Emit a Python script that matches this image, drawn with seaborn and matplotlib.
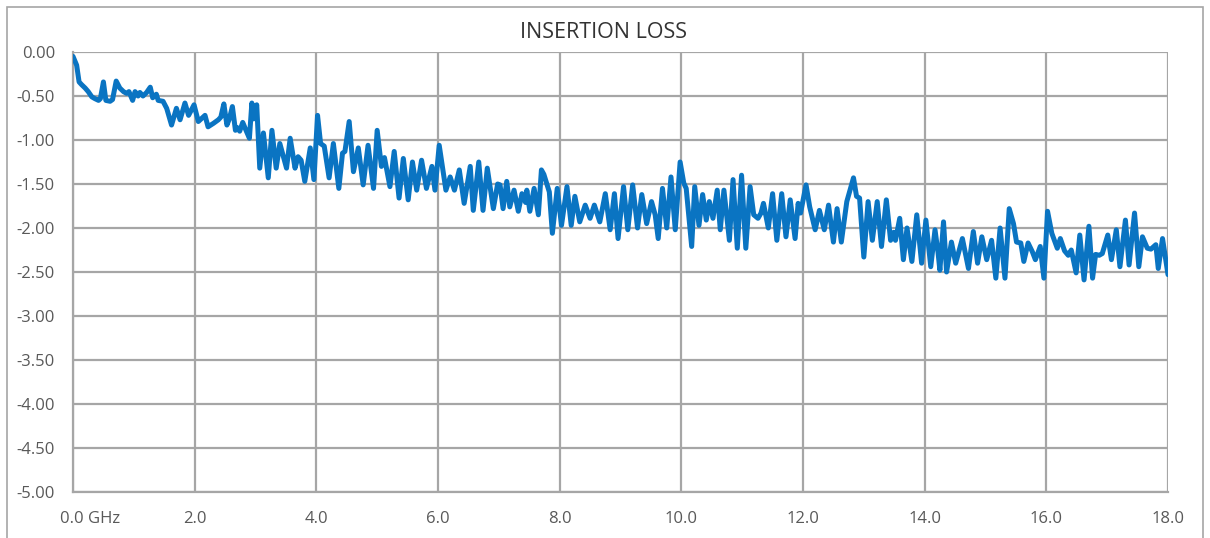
import matplotlib
matplotlib.use("Agg")
import matplotlib.pyplot as plt
import matplotlib.transforms as mtransforms
from matplotlib.patches import Rectangle
import seaborn as sns
import pandas as pd

# frequency (GHz) and insertion loss (dB)
freq = [
    0.00, 0.06, 0.10, 0.14, 0.20, 0.25, 0.31, 0.36, 0.42, 0.45, 0.50, 0.54, 0.61, 0.65,
    0.71, 0.77, 0.83, 0.88, 0.92, 0.98, 1.02, 1.07, 1.10, 1.15, 1.21, 1.27, 1.31, 1.37,
    1.40, 1.48, 1.54, 1.62, 1.70, 1.76, 1.84, 1.90, 1.99, 2.06, 2.17, 2.22, 2.31, 2.39,
    2.43, 2.48, 2.53, 2.57, 2.62, 2.67, 2.70, 2.74, 2.79, 2.85, 2.90, 2.94, 2.97, 3.02,
    3.07, 3.13, 3.21, 3.27, 3.34, 3.40, 3.51, 3.57, 3.65, 3.70, 3.75, 3.81, 3.90, 3.96,
    4.02, 4.07, 4.13, 4.21, 4.28, 4.37, 4.43, 4.47, 4.54, 4.61, 4.69, 4.77, 4.85, 4.94,
    5.00, 5.07, 5.12, 5.21, 5.28, 5.36, 5.43, 5.51, 5.58, 5.65, 5.73, 5.81, 5.90, 5.95,
    6.02, 6.09, 6.13, 6.20, 6.27, 6.35, 6.43, 6.53, 6.58, 6.67, 6.74, 6.81, 6.91, 6.98,
    7.02, 7.07, 7.13, 7.18, 7.25, 7.32, 7.38, 7.44, 7.46, 7.51, 7.58, 7.65, 7.70, 7.74,
    7.83, 7.88, 7.96, 8.03, 8.12, 8.19, 8.25, 8.33, 8.42, 8.50, 8.57, 8.66, 8.75, 8.83,
    8.90, 8.96, 9.05, 9.12, 9.20, 9.28, 9.35, 9.43, 9.51, 9.57, 9.62, 9.69, 9.76, 9.83,
    9.90, 9.98, 10.04, 10.08, 10.17, 10.22, 10.29, 10.35, 10.41, 10.46, 10.52, 10.59,
    10.64, 10.70, 10.79, 10.85, 10.92, 10.99, 11.06, 11.13, 11.19, 11.26, 11.31, 11.35,
    11.43, 11.50, 11.57, 11.65, 11.72, 11.79, 11.87, 11.92, 11.96, 12.05, 12.11, 12.20,
    12.27, 12.35, 12.42, 12.50, 12.56, 12.63, 12.72, 12.83, 12.88, 12.93, 13.00, 13.07,
    13.14, 13.22, 13.29, 13.37, 13.44, 13.49, 13.52, 13.59, 13.65, 13.71, 13.79, 13.87,
    13.95, 14.02, 14.10, 14.17, 14.22, 14.25, 14.31, 14.36, 14.44, 14.51, 14.62, 14.72,
    14.80, 14.87, 14.94, 15.02, 15.10, 15.17, 15.24, 15.32, 15.39, 15.46, 15.51, 15.58,
    15.63, 15.70, 15.77, 15.82, 15.90, 15.96, 16.02, 16.09, 16.18, 16.23, 16.30, 16.36,
    16.41, 16.49, 16.55, 16.62, 16.70, 16.76, 16.81, 16.87, 16.92, 17.01, 17.07, 17.15,
    17.21, 17.30, 17.36, 17.45, 17.52, 17.58, 17.66, 17.72, 17.80, 17.84, 17.91, 18.00,
]
loss = [
    -0.05, -0.15, -0.34, -0.37, -0.41, -0.45, -0.51, -0.53, -0.55, -0.53, -0.34, -0.55, -0.56, -0.54,
    -0.33, -0.41, -0.45, -0.47, -0.45, -0.55, -0.45, -0.50, -0.46, -0.50, -0.46, -0.40, -0.52, -0.48,
    -0.55, -0.56, -0.64, -0.83, -0.64, -0.77, -0.58, -0.72, -0.60, -0.79, -0.72, -0.85, -0.81, -0.77,
    -0.74, -0.59, -0.83, -0.76, -0.62, -0.89, -0.86, -0.90, -0.80, -0.90, -0.98, -0.58, -0.76, -0.60,
    -1.32, -0.92, -1.43, -0.89, -1.32, -1.04, -1.32, -0.98, -1.32, -1.19, -1.23, -1.47, -1.09, -1.45,
    -0.72, -1.04, -1.07, -1.43, -1.04, -1.55, -1.15, -1.13, -0.79, -1.36, -1.09, -1.51, -1.06, -1.55,
    -0.89, -1.30, -1.20, -1.53, -1.13, -1.66, -1.21, -1.68, -1.25, -1.57, -1.23, -1.55, -1.30, -1.57,
    -1.06, -1.38, -1.57, -1.42, -1.57, -1.34, -1.72, -1.30, -1.80, -1.25, -1.80, -1.32, -1.78, -1.50,
    -1.51, -1.78, -1.47, -1.76, -1.57, -1.81, -1.61, -1.71, -1.57, -1.81, -1.55, -1.85, -1.34, -1.39,
    -1.59, -2.06, -1.55, -1.97, -1.53, -1.97, -1.64, -1.93, -1.74, -1.89, -1.74, -1.93, -1.61, -2.02,
    -1.61, -2.12, -1.53, -2.02, -1.51, -2.00, -1.62, -1.95, -1.70, -1.85, -2.12, -1.55, -2.00, -1.42,
    -2.02, -1.25, -1.49, -1.55, -2.21, -1.53, -1.97, -1.62, -1.91, -1.70, -1.89, -1.57,
    -2.02, -1.57, -2.14, -1.45, -2.23, -1.40, -2.23, -1.53, -1.85, -1.89, -1.83, -1.72,
    -2.00, -1.61, -2.14, -1.61, -2.10, -1.68, -2.12, -1.72, -1.83, -1.51, -1.76, -2.02,
    -1.80, -2.02, -1.74, -2.16, -1.78, -2.16, -1.70, -1.43, -1.64, -1.66, -2.33, -1.70,
    -2.14, -1.70, -2.21, -1.68, -2.14, -2.05, -2.14, -1.89, -2.36, -2.00, -2.38, -1.85,
    -2.40, -1.91, -2.44, -2.02, -2.28, -2.48, -1.93, -2.50, -2.16, -2.40, -2.12, -2.46,
    -2.04, -2.40, -2.10, -2.36, -2.14, -2.57, -2.00, -2.57, -1.78, -1.95, -2.16, -2.17,
    -2.38, -2.17, -2.27, -2.36, -2.21, -2.57, -1.81, -2.06, -2.23, -2.12, -2.26, -2.31,
    -2.25, -2.51, -2.08, -2.59, -1.98, -2.57, -2.30, -2.31, -2.29, -2.08, -2.36, -2.02,
    -2.44, -1.91, -2.42, -1.83, -2.44, -2.10, -2.23, -2.24, -2.19, -2.46, -2.12, -2.53,
]

x_ticks = [0, 2, 4, 6, 8, 10, 12, 14, 16, 18]
x_labels = ["", "2.0", "4.0", "6.0", "8.0", "10.0", "12.0", "14.0", "16.0", "18.0"]
y_ticks = [0.0, -0.5, -1.0, -1.5, -2.0, -2.5, -3.0, -3.5, -4.0, -4.5, -5.0]

df = pd.DataFrame({"freq": freq, "loss": loss})

sns.set_style("white")
plt.rcParams["font.family"] = ["Open Sans", "DejaVu Sans"]

fig = plt.figure(figsize=(12.1, 5.38), dpi=100)
ax = fig.add_axes([73 / 1210, 1 - 492 / 538, 1095 / 1210, 440 / 538])

grid_col = "#a6a6a6"
txt_col = "#595959"

sns.lineplot(data=df, x="freq", y="loss", ax=ax, color="#0a74c2",
             linewidth=3.6, solid_joinstyle="round", solid_capstyle="round",
             zorder=3)

ax.set_xlim(0, 18)
ax.set_ylim(-5, 0)
ax.set_xticks(x_ticks)
ax.set_xticklabels(x_labels)
ax.set_yticks(y_ticks)
ax.set_yticklabels([f"{v:.2f}" for v in y_ticks])
ax.tick_params(axis="both", length=0, labelsize=12, colors=txt_col)
ax.tick_params(axis="y", pad=13)
ax.tick_params(axis="x", pad=14)
ax.set_xlabel("")
ax.set_ylabel("")

ax.grid(True, color=grid_col, linewidth=1.6)
ax.set_axisbelow(True)
for s in ["top", "right"]:
    ax.spines[s].set_visible(False)
for s in ["left", "bottom"]:
    ax.spines[s].set_color(grid_col)
    ax.spines[s].set_linewidth(1.6)

# first label carries the unit and starts a bit left of the tick
blend = mtransforms.blended_transform_factory(ax.transData, ax.transAxes)
ax.text(-0.21, -0.043, "0.0 GHz", transform=blend, ha="left", va="top",
        fontsize=12, color=txt_col)

fig.text(604 / 1210, 1 - 32 / 538, "INSERTION LOSS", ha="center", va="center",
         fontsize=15.5, color="#333333")

# chart frame
fig.patches.append(Rectangle((7 / 1210, -0.05), 1196 / 1210, 1 - 7 / 538 + 0.05,
                             transform=fig.transFigure, fill=False,
                             edgecolor=grid_col, linewidth=1.2))

fig.savefig("out.png", dpi=100)
